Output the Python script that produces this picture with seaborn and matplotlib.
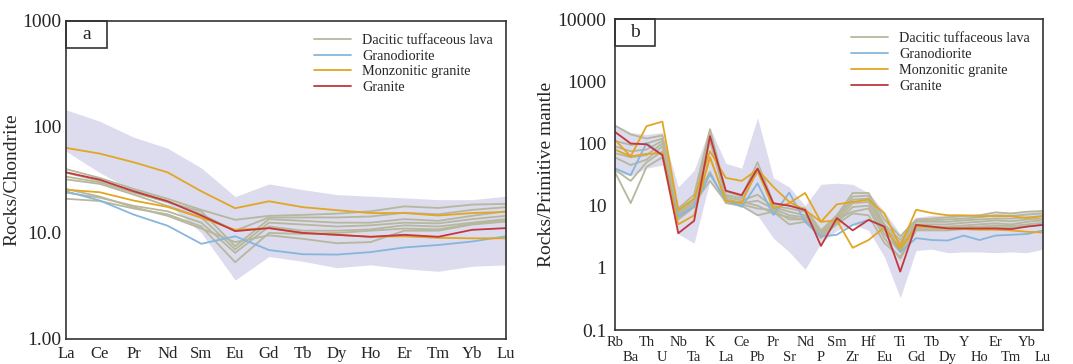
import numpy as np
import pandas as pd
import matplotlib
matplotlib.use("Agg")
import matplotlib.pyplot as plt
from matplotlib.patches import Rectangle
from matplotlib.lines import Line2D
import seaborn as sns

sns.set_theme(style="white")
plt.rcParams['font.family'] = ['Liberation Serif', 'DejaVu Serif']

# ---- panel a : REE / chondrite ----
ree = ["La", "Ce", "Pr", "Nd", "Sm", "Eu", "Gd", "Tb", "Dy", "Ho", "Er", "Tm", "Yb", "Lu"]

ree_dacite = [
    [40, 33, 26, 21, 16.5, 13.3, 14.5, 14.8, 15.2, 16.0, 17.8, 17.2, 18.5, 18.8],
    [37, 31, 25, 20, 15.0, 10.5, 14.0, 14.0, 14.0, 14.3, 15.5, 15.0, 16.5, 17.5],
    [34, 30, 24, 19.5, 16.0, 7.5, 13.5, 13.0, 12.5, 12.5, 13.5, 13.0, 14.5, 16.0],
    [32, 29, 23, 18, 14.0, 7.0, 12.5, 12.0, 11.5, 11.8, 12.5, 12.3, 13.5, 14.5],
    [24, 21.5, 18, 16, 12.5, 6.5, 11.5, 10.5, 10.5, 10.8, 11.8, 11.5, 12.5, 13.5],
    [21, 20, 17, 15, 11.5, 5.3, 10.0, 9.8, 10.0, 10.5, 11.0, 10.8, 12.2, 13.0],
    [26, 22, 17.5, 14.5, 11.0, 8.2, 9.5, 8.8, 8.0, 8.2, 10.5, 10.5, 12.0, 12.8],
]
ree_granodiorite = [
    [24.7, 20.2, 14.9, 11.7, 7.9, 9.3, 6.9, 6.3, 6.25, 6.6, 7.3, 7.7, 8.3, 9.3],
]
ree_monzonitic = [
    [63.4, 56, 46.4, 37.3, 24.7, 17.1, 19.9, 17.5, 16.4, 15.4, 15.4, 14.6, 15.4, 15.8],
    [25.6, 24.2, 20.2, 17.6, 13.9, 10.7, 11.1, 10.0, 9.6, 9.2, 9.3, 9.0, 8.9, 8.9],
]
ree_granite = [
    [37.3, 31.8, 24.7, 19.9, 14.6, 10.4, 11.1, 10.0, 9.6, 9.2, 9.6, 9.2, 10.7, 11.1],
]
ree_band_hi = [145, 113, 80, 63, 41, 22, 29, 25.6, 23, 22.2, 21.4, 20.6, 20.6, 22.2]
ree_band_lo = [59, 37, 25, 19, 10, 3.6, 6.0, 5.4, 4.7, 5.0, 4.6, 4.35, 4.85, 5.0]

# ---- panel b : trace elements / primitive mantle ----
trace = ["Rb", "Ba", "Th", "U", "Nb", "Ta", "K", "La", "Ce", "Pb", "Pr", "Sr", "Nd", "P",
         "Sm", "Zr", "Hf", "Eu", "Ti", "Gd", "Tb", "Dy", "Y", "Ho", "Er", "Tm", "Yb", "Lu"]

tr_dacite = [
    [195, 140, 120, 135, 9, 15, 170, 17, 14, 50, 11, 10, 9, 4, 7, 16, 16, 6, 3.2, 6, 6.2, 6.5, 6.8, 7, 7.8, 7.5, 8, 8.2],
    [110, 95, 100, 120, 8, 13, 150, 15, 13, 35, 10, 9, 8, 3.7, 6.5, 14, 14.5, 5, 2.8, 5.8, 5.8, 6, 6.2, 6.5, 7, 6.8, 7.2, 7.5],
    [90, 75, 80, 110, 7, 11, 130, 14, 12, 15, 9.5, 8, 7, 3.5, 6, 12.5, 13, 4.5, 2.5, 5.5, 5.5, 5.5, 5.8, 6, 6.2, 6.2, 6.5, 6.8],
    [70, 60, 65, 100, 6.5, 10, 110, 13, 11, 12, 9, 7, 6.5, 3.3, 5.5, 11, 11.5, 4, 2.2, 5, 5, 5, 5.3, 5.5, 5.8, 5.6, 6, 6.2],
    [60, 45, 55, 90, 6, 9.5, 60, 12, 10.5, 9, 8.5, 6, 6, 3.0, 5.2, 9.5, 10, 3.5, 1.8, 4.6, 4.6, 4.6, 4.8, 5, 5.2, 5, 5.5, 5.8],
    [38, 25, 50, 75, 7.5, 12, 35, 11, 10, 7, 8, 5, 5.5, 3.2, 5, 7.5, 7, 2.5, 1.5, 4.2, 4.2, 4.3, 4.5, 4.6, 4.8, 4.7, 5, 5.3],
    [35, 11, 42, 60, 6.8, 11, 25, 11.5, 11.5, 10, 7.5, 6.5, 6, 3.4, 6, 8, 9, 3, 1.4, 4, 4, 4, 4.2, 4.3, 4.5, 4.4, 4.7, 5],
]
tr_granodiorite = [
    [40, 31, 102, 65, 6.7, 9.6, 32, 12.3, 9.6, 22.8, 7.1, 16.2, 5.5, 3.2, 3.4, 4.9, 5.9, 4.6, 1.8, 3.0, 2.8, 2.75, 3.3, 2.8, 3.3, 3.4, 3.5, 4.0],
]
tr_monzonitic = [
    [115, 62, 190, 225, 8.5, 13, 75, 28, 25, 38, 20, 11.5, 8.5, 5.5, 10.5, 11.5, 12.5, 7.5, 2.2, 8.6, 7.6, 7.0, 7.0, 6.8, 6.8, 6.8, 6.3, 6.8],
    [80, 62, 68, 70, 5.0, 7.0, 60, 12, 11, 38, 9, 11, 16, 5.5, 5.8, 2.1, 2.8, 4.5, 2.0, 4.6, 4.5, 4.3, 4.2, 4.1, 4.1, 4.0, 3.8, 3.7],
]
tr_granite = [
    [154, 100, 97, 65, 3.6, 5.7, 131, 17.4, 14.8, 39.8, 10.9, 10, 8.5, 2.25, 6.3, 4.0, 5.9, 4.6, 0.87, 4.9, 4.6, 4.3, 4.3, 4.3, 4.3, 4.2, 4.6, 4.9],
]
tr_band_hi = [200, 150, 140, 150, 20, 37, 180, 48, 40, 260, 28, 20, 10, 22, 23, 22, 16, 8, 3.5,
              6.5, 7, 7, 7.2, 7.4, 7.6, 7.8, 8, 8.5]
tr_band_lo = [35, 30, 40, 45, 3.5, 2.5, 25, 11, 9.5, 7, 3, 1.8, 0.95, 2.5, 4, 5, 4, 1.5, 0.33,
              1.9, 2.0, 1.75, 1.8, 1.8, 1.75, 1.8, 1.75, 2.0]

groups = ["Dacitic tuffaceous lava", "Granodiorite", "Monzonitic granite", "Granite"]
colors = {"Dacitic tuffaceous lava": "#b6b79c", "Granodiorite": "#86b6dc",
          "Monzonitic granite": "#e2a623", "Granite": "#c3373f"}
band_color = "#dcdcee"


def long_table(elements, series):
    rows = []
    n = 0
    for g, samples in zip(groups, series):
        for s in samples:
            for i, v in enumerate(s):
                rows.append({"pos": i, "value": v, "group": g, "sample": n})
            n += 1
    return pd.DataFrame(rows)


def panel(ax, elements, series, lo, hi, ylim, yticks, yticklabels, ylabel, letter, two_rows):
    x = np.arange(len(elements))
    ax.fill_between(x, lo, hi, color=band_color, lw=0, zorder=0)
    df = long_table(elements, series)
    sns.lineplot(data=df, x="pos", y="value", hue="group", units="sample", estimator=None,
                 palette=colors, hue_order=groups, lw=1.3, legend=False, ax=ax,
                 sort=False)
    ax.set_yscale("log")
    ax.set_ylim(*ylim)
    ax.set_xlim(0, len(elements) - 1)
    ax.minorticks_off()
    ax.set_yticks(yticks)
    ax.set_yticklabels(yticklabels, fontsize=14)
    ax.tick_params(which="both", direction="in", length=5, width=1, color="#333333")
    if two_rows:
        # staggered labels: even elements on the upper row, odd ones below
        ax.set_xticks(x[::2])
        ax.set_xticklabels(elements[::2], fontsize=10.5)
        ax.set_xticks(x[1::2], minor=True)
        ax.set_xticklabels(elements[1::2], minor=True, fontsize=10.5)
        ax.tick_params(axis="x", which="major", pad=4)
        ax.tick_params(axis="x", which="minor", pad=15)
        ax.tick_params(axis="y", pad=6)
    else:
        ax.set_xticks(x)
        ax.set_xticklabels(elements, fontsize=12)
        ax.tick_params(axis="x", pad=5)
        ax.tick_params(axis="y", pad=3)
    ax.set_xlabel("")
    ax.set_ylabel(ylabel, fontsize=14, labelpad=2)
    for sp in ax.spines.values():
        sp.set_color("#333333")
        sp.set_linewidth(1.2)
    # letter box in the top-left corner
    ax.add_patch(Rectangle((0, 0.915), 0.094, 0.085, transform=ax.transAxes,
                           fill=False, ec="#333333", lw=1.2, clip_on=False, zorder=5))
    ax.text(0.047, 0.957, letter, transform=ax.transAxes, ha="center", va="center",
            fontsize=14, zorder=6)
    handles = [Line2D([], [], color=colors[g], lw=1.3) for g in groups]
    ax.legend(handles, groups, loc="upper right", frameon=False, fontsize=10.3,
              handlelength=2.6, handletextpad=0.8, labelspacing=0.2,
              bbox_to_anchor=(1.0, 1.0), borderaxespad=0.5)


fig = plt.figure(figsize=(10.73, 3.64), dpi=100)
ax1 = fig.add_axes([0.0615, 0.0687, 0.410, 0.874])
ax2 = fig.add_axes([0.573, 0.0934, 0.399, 0.854])

panel(ax1, ree, [ree_dacite, ree_granodiorite, ree_monzonitic, ree_granite],
      ree_band_lo, ree_band_hi, (1, 1000), [1, 10, 100, 1000],
      ["1.00", "10.0", "100", "1000"], "Rocks/Chondrite", "a", False)
panel(ax2, trace, [tr_dacite, tr_granodiorite, tr_monzonitic, tr_granite],
      tr_band_lo, tr_band_hi, (0.1, 10000), [0.1, 1, 10, 100, 1000, 10000],
      ["0.1", "1", "10", "100", "1000", "10000"], "Rocks/Primitive mantle", "b", True)

fig.savefig("out.png", dpi=100)
